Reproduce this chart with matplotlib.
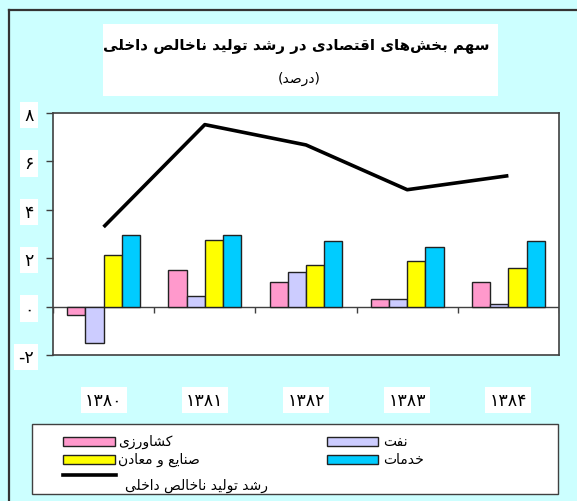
import matplotlib
matplotlib.use("Agg")
import matplotlib.pyplot as plt
from matplotlib.patches import Rectangle
from matplotlib.lines import Line2D
import numpy as np

# ---------------- data ----------------
years = ['۱۳۸۰', '۱۳۸۱', '۱۳۸۲', '۱۳۸۳', '۱۳۸۴']
agriculture = [-0.33, 1.52, 1.00, 0.31, 1.00]      # کشاورزی
oil = [-1.50, 0.42, 1.42, 0.31, 0.09]              # نفت
industry = [2.14, 2.74, 1.73, 1.90, 1.60]          # صنایع و معادن
services = [2.97, 2.94, 2.70, 2.48, 2.70]          # خدمات
gdp_growth = [3.29, 7.52, 6.68, 4.83, 5.41]        # رشد تولید ناخالص داخلی
y_ticks = [-2, 0, 2, 4, 6, 8]
y_tick_labels = ['-۲', '۰', '۲', '۴', '۶', '۸']

title_txt = 'سهم بخش‌های اقتصادی در رشد تولید ناخالص داخلی'
subtitle_txt = 'درصد'
series_names = ['کشاورزی', 'نفت', 'صنایع و معادن', 'خدمات', 'رشد تولید ناخالص داخلی']

# ------------- minimal Arabic/Persian shaping -------------
FORMS = {
    '\u0627': ('\uFE8D', '\uFE8E', None, None),
    '\u0628': ('\uFE8F', '\uFE90', '\uFE91', '\uFE92'),
    '\u062A': ('\uFE95', '\uFE96', '\uFE97', '\uFE98'),
    '\u062E': ('\uFEA5', '\uFEA6', '\uFEA7', '\uFEA8'),
    '\u062F': ('\uFEA9', '\uFEAA', None, None),
    '\u0631': ('\uFEAD', '\uFEAE', None, None),
    '\u0632': ('\uFEAF', '\uFEB0', None, None),
    '\u0633': ('\uFEB1', '\uFEB2', '\uFEB3', '\uFEB4'),
    '\u0634': ('\uFEB5', '\uFEB6', '\uFEB7', '\uFEB8'),
    '\u0635': ('\uFEB9', '\uFEBA', '\uFEBB', '\uFEBC'),
    '\u0639': ('\uFEC9', '\uFECA', '\uFECB', '\uFECC'),
    '\u0641': ('\uFED1', '\uFED2', '\uFED3', '\uFED4'),
    '\u0642': ('\uFED5', '\uFED6', '\uFED7', '\uFED8'),
    '\u0644': ('\uFEDD', '\uFEDE', '\uFEDF', '\uFEE0'),
    '\u0645': ('\uFEE1', '\uFEE2', '\uFEE3', '\uFEE4'),
    '\u0646': ('\uFEE5', '\uFEE6', '\uFEE7', '\uFEE8'),
    '\u0647': ('\uFEE9', '\uFEEA', '\uFEEB', '\uFEEC'),
    '\u0648': ('\uFEED', '\uFEEE', None, None),
    '\u06CC': ('\uFBFC', '\uFBFD', '\uFBFE', '\uFBFF'),
    '\u06A9': ('\uFB8E', '\uFB8F', '\uFB90', '\uFB91'),
}


def shape(text):
    chars = list(text)
    out = []
    for i, c in enumerate(chars):
        if c == '\u200c':
            continue
        if c not in FORMS:
            out.append(c)
            continue
        prev = chars[i - 1] if i > 0 else None
        nxt = chars[i + 1] if i + 1 < len(chars) else None
        jp = prev in FORMS and FORMS[prev][2] is not None
        jn = FORMS[c][2] is not None and nxt in FORMS
        f = FORMS[c]
        if jp and jn:
            out.append(f[3])
        elif jp:
            out.append(f[1])
        elif jn:
            out.append(f[2])
        else:
            out.append(f[0])
    return ''.join(out[::-1])


plt.rcParams['font.family'] = ['DejaVu Sans']

W, H = 577, 502
fig = plt.figure(figsize=(W / 100, H / 100), dpi=100, facecolor='#CCFFFF')


def fx(x):
    return x / W


def fy(y):
    return 1 - y / H


# outer border (left + top)
fig.add_artist(Line2D([fx(9), fx(9)], [fy(11), fy(H)], color='#333333', lw=1.6, transform=fig.transFigure))
fig.add_artist(Line2D([fx(9), fx(W)], [fy(11), fy(11)], color='#333333', lw=1.6, transform=fig.transFigure))

# title box
fig.add_artist(Rectangle((fx(103), fy(97)), fx(498) - fx(103), fy(25) - fy(97),
                         facecolor='white', edgecolor='none', transform=fig.transFigure))
fig.text(fx(296), fy(46), shape(title_txt), ha='center', va='center', fontsize=10.8,
         fontweight='bold', color='black')
fig.text(fx(299), fy(79), '(' + shape(subtitle_txt) + ')', ha='center', va='center',
         fontsize=10, color='black')

# main axes
ax = fig.add_axes([fx(53), fy(356), fx(559) - fx(53), fy(114) - fy(356)])
ax.set_facecolor('white')
x = np.arange(len(years))
w = 0.18
colors = ['#FF99CC', '#CCCCFF', '#FFFF00', '#00CCFF']
series = [agriculture, oil, industry, services]
for k, (vals, col) in enumerate(zip(series, colors)):
    ax.bar(x + (k - 1.5) * w, vals, width=w, color=col, edgecolor='#222222', linewidth=1.0, zorder=3)
ax.plot(x, gdp_growth, color='black', lw=2.6, zorder=4, solid_capstyle='butt')

ax.set_xlim(-0.5, len(years) - 0.5)
ax.set_ylim(-2, 8)
ax.axhline(0, color='#404040', lw=1.0, zorder=2)
ax.vlines(np.arange(-0.5, len(years)), 0, -0.25, color='#404040', lw=1.0, zorder=2)

for s in ax.spines.values():
    s.set_color('#404040')
    s.set_linewidth(1.2)

ax.set_yticks(y_ticks)
ax.set_yticklabels(y_tick_labels, fontsize=12.5)
ax.tick_params(axis='y', direction='out', length=5, width=1.0, color='#404040', pad=9)
ax.set_xticks(x)
ax.set_xticklabels(years, fontsize=12.5)
ax.tick_params(axis='x', length=0, pad=26)
for lab in ax.get_yticklabels() + ax.get_xticklabels():
    lab.set_bbox(dict(facecolor='white', edgecolor='none', pad=3))

# legend (drawn manually, right-to-left style)
fig.add_artist(Rectangle((fx(32), fy(494.5)), fx(558) - fx(32), fy(425) - fy(494.5),
                         facecolor='white', edgecolor='#404040', lw=1.0, transform=fig.transFigure))
leg_items = [
    (63, 115, 437.5, 446.5, colors[0], 118, 442, series_names[0]),
    (327, 378, 437.5, 446.5, colors[1], 383, 442, series_names[1]),
    (63, 115, 455.5, 464.5, colors[2], 118, 460, series_names[2]),
    (327, 378, 455.5, 464.5, colors[3], 383, 460, series_names[3]),
]
for x0, x1, y0, y1, col, tx, ty, name in leg_items:
    fig.add_artist(Rectangle((fx(x0), fy(y1)), fx(x1) - fx(x0), fy(y0) - fy(y1),
                             facecolor=col, edgecolor='#222222', lw=1.0, transform=fig.transFigure))
    fig.text(fx(tx), fy(ty), shape(name), ha='left', va='center', fontsize=10)
fig.add_artist(Line2D([fx(63), fx(116)], [fy(476), fy(476)], color='black', lw=2.6,
                      transform=fig.transFigure))
fig.text(fx(125), fy(486), shape(series_names[4]), ha='left', va='center', fontsize=10)

fig.savefig('out.png', dpi=100, facecolor=fig.get_facecolor())
